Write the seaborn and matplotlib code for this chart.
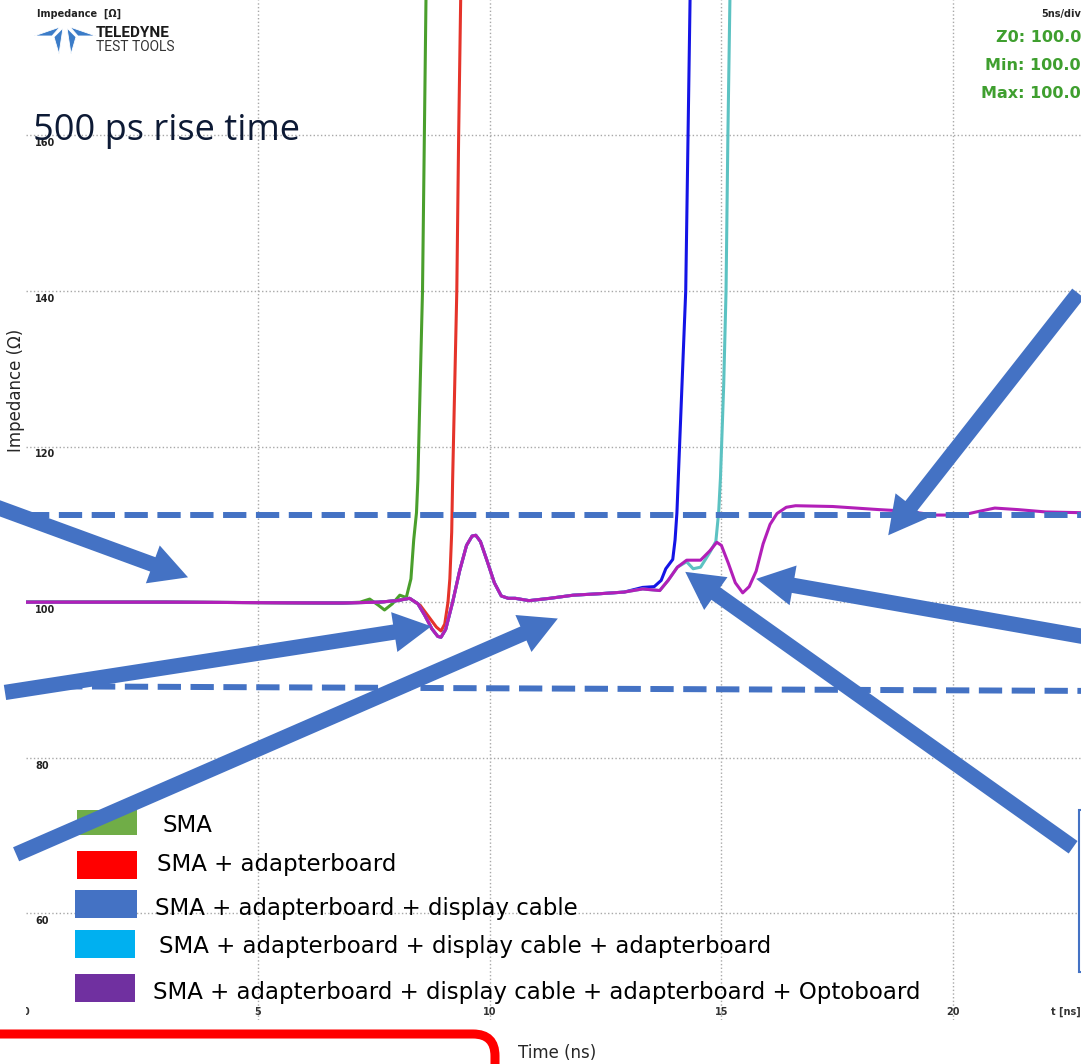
import numpy as np
import pandas as pd
import matplotlib.pyplot as plt
import matplotlib.transforms as mtransforms
from matplotlib.patches import FancyArrowPatch, Rectangle, FancyBboxPatch, Polygon, ArrowStyle
import seaborn as sns

# ---- TDR traces: time (ns) / impedance (Ohm) ----
t_opto = [0.0, 3.0, 6.8, 7.6, 8.0, 8.27, 8.45, 8.6, 8.75, 8.88, 8.95, 9.05, 9.2, 9.35, 9.5,
          9.62, 9.7, 9.8, 9.95, 10.1, 10.25, 10.4, 10.55, 10.85, 11.3, 11.8, 12.4, 12.9,
          13.3, 13.67, 13.85, 14.05, 14.25, 14.55, 14.75, 14.9, 15.0, 15.15, 15.3, 15.46,
          15.6, 15.75, 15.9, 16.05, 16.2, 16.4, 16.6, 17.4, 18.4, 19.0, 19.6, 20.2, 20.5,
          20.9, 21.4, 22.0, 22.8]
z_opto = [100.0, 100.0, 99.9, 100.0, 100.2, 100.5, 99.8, 98.3, 96.6, 95.6, 95.5, 96.5, 100.0,
          104.0, 107.3, 108.5, 108.6, 107.8, 105.2, 102.5, 100.8, 100.5, 100.5, 100.2, 100.5,
          100.9, 101.1, 101.3, 101.7, 101.5, 102.8, 104.5, 105.4, 105.4, 106.6, 107.7, 107.3,
          105.0, 102.5, 101.2, 102.0, 104.0, 107.5, 110.0, 111.4, 112.2, 112.4, 112.3, 111.9,
          111.7, 111.2, 111.2, 111.6, 112.1, 111.9, 111.6, 111.5]

t_sma = [0.0, 3.0, 6.8, 7.2, 7.41, 7.6, 7.73, 7.9, 8.06, 8.2, 8.3, 8.36, 8.42, 8.45, 8.5, 8.55, 8.59, 8.63]
z_sma = [100.0, 100.0, 99.9, 100.0, 100.4, 99.6, 99.0, 99.8, 100.9, 100.6, 103.0, 108.0, 111.5,
         115.7, 128.0, 140.0, 160.0, 180.0]

t_adapt = t_opto[:6] + [8.5, 8.7, 8.85, 8.95, 9.03, 9.1, 9.14, 9.18, 9.2, 9.29, 9.33, 9.38]
z_adapt = z_opto[:6] + [99.6, 98.0, 96.8, 96.3, 97.2, 100.0, 103.0, 109.0, 115.7, 140.0, 160.0, 180.0]

t_cable = t_opto[:28] + [13.3, 13.55, 13.7, 13.8, 13.95, 14.0, 14.04, 14.07, 14.15, 14.23, 14.28, 14.33]
z_cable = z_opto[:28] + [101.9, 102.0, 102.8, 104.3, 105.5, 108.0, 111.5, 116.0, 128.0, 140.0, 160.0, 180.0]

t_cable_adapt = t_opto[:32] + [14.25, 14.39, 14.55, 14.75, 14.88, 14.94, 14.98, 15.05, 15.1, 15.14, 15.19]
z_cable_adapt = z_opto[:32] + [105.2, 104.3, 104.5, 106.4, 107.8, 111.5, 116.0, 128.0, 140.0, 160.0, 180.0]

series_names = ['SMA',
                'SMA + adapterboard',
                'SMA + adapterboard + display cable',
                'SMA + adapterboard + display cable + adapterboard',
                'SMA + adapterboard + display cable + adapterboard + Optoboard']
line_colors = ['#4a9f2c', '#e5332a', '#1414e6', '#5cc2c2', '#b21fb8']
legend_colors = ['#70ad47', '#ff0000', '#4472c4', '#00b0f0', '#7030a0']

# tolerance band (dashed) and axis ticks
band_t = [0.0, 22.76]
band_upper = [111.2, 111.2]
band_lower = [89.2, 88.6]
x_ticks = [0, 5, 10, 15, 20]
y_ticks = [60, 80, 100, 120, 140, 160]

frames = []
for name, t, z in zip(series_names,
                      [t_sma, t_adapt, t_cable, t_cable_adapt, t_opto],
                      [z_sma, z_adapt, z_cable, z_cable_adapt, z_opto]):
    frames.append(pd.DataFrame({'time': t, 'Z': z, 'setup': name}))
df = pd.concat(frames, ignore_index=True)

sns.set_style('white')
plt.rcParams['font.family'] = ['DejaVu Sans']

W, H = 1081, 1064
fig = plt.figure(figsize=(W / 100, H / 100), dpi=100)
fig.patch.set_facecolor('white')
ax = fig.add_axes([26.3 / W, 44 / H, 1 - 26.3 / W, 1 - 44 / H])
ax.patch.set_alpha(0)
# pixel coordinates of the slide (origin top-left) for the pasted decorations
pix = mtransforms.Affine2D().scale(1 / W, -1 / H).translate(0, 1) + fig.transFigure

sns.lineplot(data=df, x='time', y='Z', hue='setup', hue_order=series_names,
             palette=dict(zip(series_names, line_colors)), estimator=None, sort=False,
             linewidth=2.2, legend=False, ax=ax, zorder=2)

ax.set_xlim(0, 22.76)
ax.set_ylim(46.3, 177.4)
ax.set_xticks(x_ticks[1:])
ax.set_yticks(y_ticks)
ax.tick_params(length=0, labelbottom=False, labelleft=False)
ax.set_axisbelow(True)
ax.grid(True, linestyle=':', color='#a8a8a8', linewidth=1.0)
for s in ax.spines.values():
    s.set_visible(False)
ax.set_xlabel('')
ax.set_ylabel('')

# dashed tolerance lines
for band in [band_upper, band_lower]:
    ax.plot(band_t, band, color='#4472c4', lw=4.3, dashes=(3.9, 1.6), zorder=3, clip_on=False)

# tick labels inside the plot, like the scope software
for v in y_ticks:
    ax.annotate(str(v), (0.19, v), xytext=(0, -2), textcoords='offset points',
                ha='left', va='top', fontsize=7, fontweight='bold', color='#222222', zorder=6)
for v in x_ticks:
    ax.text(v, 0.008, str(v), transform=ax.get_xaxis_transform(), ha='center', va='center',
            fontsize=7, fontweight='bold', color='#333333', zorder=6, clip_on=(v == 0))
ax.text(22.76, 0.008, 't [ns]', transform=ax.get_xaxis_transform(), ha='right', va='center',
        fontsize=7, fontweight='bold', color='#333333')

# arrows pointing at the reflections
arrow_tail = [(-1.0, 113.0), (-0.46, 88.4), (-0.22, 67.6), (22.70, 139.7), (23.18, 95.2), (22.59, 68.5)]
arrow_tip = [(3.49, 103.2), (8.74, 96.9), (11.47, 97.9), (18.60, 108.6), (15.75, 103.0), (14.22, 103.9)]
style = ArrowStyle.Simple(head_length=27, head_width=29, tail_width=11)
for a, b in zip(arrow_tail, arrow_tip):
    ax.add_patch(FancyArrowPatch(a, b, arrowstyle=style, mutation_scale=1, color='#4472c4',
                                 shrinkA=0, shrinkB=0, clip_on=False, zorder=5, lw=0))

# legend pasted on the slide
leg_boxes = [(77, 810, 60, 25), (77, 851, 60, 28), (75, 890, 62, 28), (75, 930, 60, 28), (75, 974, 60, 28)]
leg_text = [(163, 825), (157, 864), (155, 908), (159, 947), (153, 992)]
for (x, y, w, h), (tx, ty), c, name in zip(leg_boxes, leg_text, legend_colors, series_names):
    ax.add_patch(Rectangle((x, y), w, h, transform=pix, facecolor=c, edgecolor='none',
                           clip_on=False, zorder=4))
    ax.text(tx, ty, name, transform=pix, ha='left', va='center', fontsize=16.5, color='black', zorder=4)

# header: scope labels + logo
ax.text(37, 14, 'Impedance  [Ω]', transform=pix, fontsize=7, fontweight='bold', va='center', color='#222222')
logo = [[(34, 36), (60, 27), (52, 36)], [(54, 37), (63, 28), (59, 54)],
        [(67, 28), (76, 37), (71, 54)], [(70, 27), (96, 36), (78, 36)]]
for poly in logo:
    ax.add_patch(Polygon(poly, closed=True, transform=pix, facecolor='#3b7cc8', edgecolor='white',
                         lw=0.6, clip_on=False, zorder=6))
ax.text(96, 33, 'TELEDYNE', transform=pix, fontsize=11, fontweight='bold', family='Roboto',
        va='center', color='#1a1a1a')
ax.text(96, 47, 'TEST TOOLS', transform=pix, fontsize=10, family='Roboto', va='center', color='#333333')
ax.text(1081, 14, '5ns/div', transform=pix, fontsize=7, fontweight='bold', ha='right', va='center')
for i, lbl in enumerate(['Z0: 100.0', 'Min: 100.0', 'Max: 100.0']):
    ax.text(1081, 38 + 28 * i, lbl, transform=pix, fontsize=11.5, fontweight='bold', ha='right',
            va='center', color='#3f9f2f')

ax.text(33, 131, '500 ps rise time', transform=pix, fontsize=26, family='Open Sans',
        va='center', color='#0d1a35', zorder=6)
ax.text(16, 390, 'Impedance (Ω)', transform=pix, fontsize=12, rotation=90, ha='center', va='center')
ax.text(518, 1053, 'Time (ns)', transform=pix, fontsize=12, ha='left', va='center')

# red frame at the bottom and the clipped box at the right
ax.add_patch(FancyBboxPatch((-40, 1034), 535, 100, boxstyle='round,pad=0,rounding_size=22',
                            transform=pix, edgecolor='#ff0000', facecolor='none', lw=6.5,
                            clip_on=False, zorder=6))
ax.add_patch(Rectangle((1079, 810), 30, 162, transform=pix, edgecolor='#4472c4', facecolor='white',
                       lw=1.5, clip_on=False, zorder=4))

plt.savefig('out.png', dpi=100)
